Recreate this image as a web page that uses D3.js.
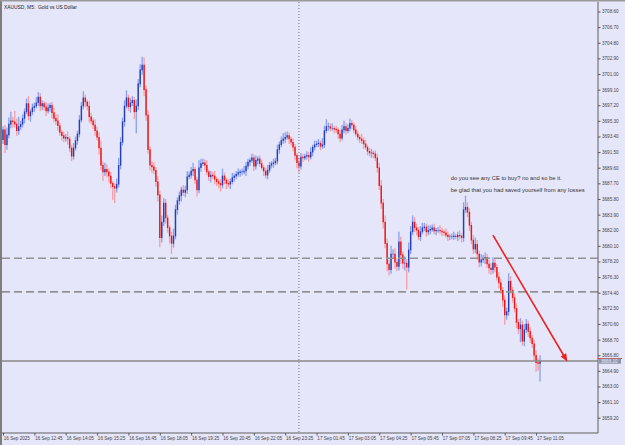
<!DOCTYPE html>
<html>
<head>
<meta charset="utf-8">
<script src="https://cdn.jsdelivr.net/npm/d3@7"></script>
<style>
  html, body { margin: 0; padding: 0; background: #e6e6fa; }
  svg { display: block; }
</style>
</head>
<body>
<svg id="chart" width="625" height="445"></svg>
<script>
// XAUUSD M5 closes, one per bar (open = previous close)
const closes = [
  3694.2, 3692.4, 3693.6, 3694.9, 3695.3, 3695.2, 3694.9, 3694.1, 3694.6, 3694.9,
  3695.6, 3696.4, 3697.4, 3695.9, 3696.4, 3696.9, 3697.1, 3697.5, 3698.2, 3697.1,
  3697.4, 3697.0, 3696.5, 3696.9, 3697.2, 3696.3, 3695.6, 3695.3, 3694.7, 3693.9,
  3693.5, 3693.2, 3693.3, 3693.1, 3692.0, 3691.0, 3692.0, 3692.9, 3693.7, 3695.4,
  3697.1, 3698.1, 3697.6, 3697.1, 3695.8, 3695.3, 3694.8, 3694.1, 3693.3, 3692.0,
  3689.9, 3689.1, 3689.4, 3689.1, 3688.6, 3687.7, 3687.3, 3687.1, 3687.6, 3689.9,
  3692.7, 3695.2, 3697.1, 3698.1, 3697.0, 3697.5, 3697.8, 3696.4, 3697.1, 3699.8,
  3701.5, 3702.1, 3699.1, 3696.0, 3691.8, 3689.9, 3689.7, 3689.3, 3687.9, 3686.3,
  3681.1, 3683.0, 3685.3, 3683.5, 3682.3, 3681.3, 3680.4, 3681.3, 3684.5, 3685.6,
  3686.2, 3686.9, 3686.6, 3686.9, 3688.5, 3688.7, 3689.2, 3689.4, 3688.1, 3686.9,
  3689.6, 3690.1, 3690.2, 3689.9, 3689.1, 3688.5, 3688.7, 3688.6, 3688.2, 3687.9,
  3687.7, 3687.5, 3688.6, 3688.1, 3687.7, 3687.6, 3687.9, 3688.4, 3688.6, 3688.8,
  3689.0, 3689.1, 3689.1, 3689.2, 3689.8, 3690.3, 3690.5, 3690.8, 3689.8, 3690.5,
  3690.7, 3690.1, 3689.6, 3689.2, 3688.7, 3689.3, 3689.9, 3690.1, 3690.2, 3690.4,
  3691.8, 3692.4, 3692.9, 3693.1, 3693.3, 3693.5, 3693.1, 3692.7, 3692.1, 3691.1,
  3690.2, 3689.8, 3690.9, 3690.8, 3691.0, 3691.1, 3690.9, 3691.5, 3692.1, 3692.4,
  3692.5, 3692.6, 3692.2, 3692.4, 3694.1, 3694.6, 3694.6, 3694.4, 3694.4, 3694.3,
  3694.2, 3693.7, 3693.2, 3694.2, 3694.6, 3694.1, 3694.4, 3695.0, 3694.8, 3694.2,
  3693.7, 3693.3, 3693.1, 3692.9, 3692.5, 3692.1, 3691.6, 3691.4, 3691.4, 3691.3,
  3690.8, 3689.6, 3687.4, 3685.3, 3683.0, 3680.4, 3677.9, 3677.2, 3679.1, 3679.1,
  3678.1, 3677.6, 3680.6, 3679.0, 3678.0, 3678.0, 3677.5, 3679.6, 3681.8, 3683.0,
  3682.3, 3682.0, 3681.2, 3681.8, 3682.3, 3682.4, 3681.8, 3682.0, 3682.1, 3682.3,
  3681.9, 3682.0, 3682.0, 3681.9, 3681.8, 3681.7, 3681.4, 3681.2, 3681.2, 3681.2,
  3681.3, 3681.2, 3681.4, 3681.3, 3681.1, 3684.5, 3684.8, 3684.2, 3682.6, 3680.8,
  3679.7, 3680.3, 3679.1, 3678.1, 3678.4, 3678.5, 3678.7, 3677.9, 3677.4, 3677.2,
  3678.0, 3677.5, 3676.3, 3675.6, 3674.7, 3673.5, 3671.7, 3672.1, 3675.8, 3674.7,
  3673.8, 3672.5, 3670.8, 3670.0, 3670.5, 3668.5, 3669.9, 3670.6, 3669.7, 3668.9,
  3668.2, 3666.8, 3665.9, 3665.8, 3666.1
];
const firstOpen = 3693.0;

// shadow above the body / below the body, in dollars
const wickUp = [
  0.4, 0.6, 0.9, 0.8, 1.1, 0.5, 1.3, 0.7, 1.2, 0.4,
  0.5, 0.4, 0.6, 0.9, 0.3, 0.5, 0.4, 0.7, 0.6, 0.5,
  0.4, 0.3, 0.6, 0.5, 0.3, 0.4, 0.6, 0.5, 0.8, 0.4,
  0.3, 0.5, 0.4, 0.7, 0.3, 0.4, 0.6, 0.5, 0.4, 0.6,
  0.5, 0.8, 0.4, 0.3, 0.6, 0.5, 0.4, 0.7, 0.5, 0.6,
  0.9, 0.5, 0.8, 0.6, 0.4, 0.5, 0.3, 0.4, 0.7, 0.9,
  0.6, 0.5, 0.7, 0.9, 0.4, 0.6, 0.5, 0.4, 0.8, 0.6,
  0.7, 1.0, 0.9, 0.5, 0.6, 0.4, 0.5, 0.6, 0.4, 0.7,
  0.5, 0.8, 0.6, 0.5, 0.4, 0.3, 0.5, 0.9, 0.6, 0.4,
  0.5, 0.4, 0.6, 0.5, 0.7, 0.4, 0.5, 0.8, 0.3, 0.4,
  0.9, 0.6, 0.5, 0.4, 0.6, 0.3, 0.5, 0.4, 0.6, 0.3,
  0.4, 0.5, 0.9, 0.4, 0.3, 0.5, 0.4, 0.6, 0.3, 0.4,
  0.5, 0.3, 0.4, 0.6, 0.5, 0.4, 0.3, 0.5, 0.4, 0.6,
  0.3, 0.4, 0.5, 0.3, 0.4, 0.6, 0.4, 0.3, 0.5, 0.4,
  0.6, 0.4, 0.5, 0.7, 0.6, 0.5, 0.4, 0.3, 0.5, 0.4,
  0.3, 0.6, 0.5, 0.4, 0.3, 0.5, 0.4, 0.6, 0.3, 0.5,
  0.4, 0.5, 0.3, 0.8, 0.6, 0.9, 0.5, 0.4, 0.6, 0.3,
  0.4, 0.3, 0.5, 0.6, 0.7, 0.4, 0.5, 0.6, 0.4, 0.3,
  0.5, 0.4, 0.3, 0.6, 0.4, 0.5, 0.3, 0.4, 0.5, 0.3,
  0.4, 0.5, 0.6, 0.7, 0.5, 0.8, 0.6, 0.5, 1.0, 0.6,
  0.7, 0.5, 1.2, 0.6, 0.4, 0.8, 0.5, 0.9, 0.7, 0.8,
  0.6, 0.5, 0.4, 0.7, 0.6, 0.5, 0.4, 0.6, 0.5, 0.4,
  0.5, 0.3, 0.4, 0.6, 0.4, 0.3, 0.5, 0.4, 0.3, 0.4,
  0.5, 0.3, 0.4, 0.6, 0.3, 0.9, 1.4, 0.6, 0.5, 0.4,
  0.6, 0.8, 0.5, 0.4, 0.7, 0.5, 0.6, 0.4, 0.5, 0.6,
  0.7, 0.5, 0.4, 0.6, 0.5, 0.4, 0.6, 0.5, 1.0, 0.6,
  0.4, 0.5, 0.6, 0.4, 0.8, 0.5, 0.7, 0.6, 0.4, 0.5,
  0.4, 0.5, 0.6, 0.5, 0.7
];
const wickDn = [
  0.5, 1.0, 0.6, 0.4, 0.5, 0.7, 0.4, 0.6, 0.5, 0.4,
  0.4, 0.6, 0.3, 0.5, 0.7, 0.4, 0.5, 0.3, 0.4, 0.6,
  0.5, 0.4, 0.6, 0.3, 0.5, 0.7, 0.4, 0.5, 0.6, 0.4,
  0.6, 0.5, 0.4, 0.7, 0.5, 0.6, 0.4, 0.3, 0.5, 0.4,
  0.3, 0.4, 0.6, 0.5, 0.7, 0.4, 0.5, 0.6, 0.4, 0.8,
  0.6, 1.1, 0.5, 0.7, 0.8, 0.6, 1.6, 1.8, 0.5, 0.4,
  0.5, 0.4, 0.6, 0.3, 0.5, 0.7, 0.4, 0.9, 2.6, 0.5,
  0.4, 0.6, 0.8, 0.7, 0.5, 0.6, 0.7, 0.5, 0.6, 0.8,
  1.2, 0.6, 0.5, 0.7, 0.6, 0.9, 1.3, 0.5, 0.4, 0.6,
  0.5, 0.7, 0.4, 0.6, 0.5, 0.3, 0.4, 0.6, 0.5, 0.8,
  0.4, 0.5, 0.3, 0.6, 0.4, 0.5, 0.7, 0.4, 0.6, 0.5,
  0.6, 0.8, 0.4, 0.5, 0.7, 0.4, 0.6, 0.3, 0.5, 0.4,
  0.3, 0.5, 0.4, 0.3, 0.6, 0.4, 0.5, 0.3, 0.6, 0.4,
  0.5, 0.4, 0.3, 0.6, 0.4, 0.5, 0.3, 0.4, 0.5, 0.3,
  0.4, 0.5, 0.3, 0.4, 0.5, 0.3, 0.6, 0.4, 0.5, 0.6,
  0.7, 0.8, 0.4, 0.5, 0.3, 0.4, 0.6, 0.3, 0.5, 0.4,
  0.3, 0.4, 0.5, 0.3, 0.4, 0.3, 0.5, 0.4, 0.3, 0.5,
  0.4, 0.6, 0.5, 0.3, 0.4, 0.5, 0.3, 0.4, 0.5, 0.4,
  0.3, 0.4, 0.5, 0.4, 0.6, 0.3, 0.5, 0.4, 0.6, 0.5,
  0.4, 0.6, 0.5, 0.7, 0.8, 0.6, 0.9, 0.7, 0.5, 0.6,
  0.8, 0.6, 0.5, 1.1, 0.7, 0.9, 2.7, 0.6, 0.5, 0.4,
  0.5, 0.6, 0.4, 0.5, 0.3, 0.4, 0.6, 0.4, 0.5, 0.3,
  0.4, 0.5, 0.3, 0.4, 0.5, 0.4, 0.3, 0.5, 0.4, 0.3,
  0.4, 0.3, 0.5, 0.4, 0.6, 0.5, 0.4, 0.6, 0.7, 0.5,
  0.6, 0.5, 0.7, 0.6, 0.5, 0.4, 0.6, 0.5, 0.7, 0.6,
  0.5, 0.6, 0.4, 0.7, 0.5, 0.8, 1.2, 0.6, 0.5, 0.4,
  0.6, 0.5, 0.7, 0.6, 1.6, 0.5, 0.6, 0.4, 0.7, 0.6,
  0.5, 0.6, 1.1, 0.9, 2.2
];

const priceTicks = [
  3708.6, 3706.7, 3704.8, 3702.9, 3701.0, 3699.1, 3697.2, 3695.3, 3693.4,
  3691.5, 3689.6, 3687.7, 3685.8, 3683.9, 3682.0, 3680.1, 3678.2, 3676.3,
  3674.4, 3672.5, 3670.6, 3668.7, 3666.8, 3664.9, 3663.0, 3661.1, 3659.2
];
const timeLabels = [
  '16 Sep 2025', '16 Sep 12:45', '16 Sep 14:05', '16 Sep 15:25', '16 Sep 16:45',
  '16 Sep 18:05', '16 Sep 19:25', '16 Sep 20:45', '16 Sep 22:05', '16 Sep 23:25',
  '17 Sep 01:45', '17 Sep 03:05', '17 Sep 04:25', '17 Sep 05:45', '17 Sep 07:05',
  '17 Sep 08:25', '17 Sep 09:45', '17 Sep 11:05'
];
const barsPerLabel = 16;

// chart objects
const dashedLevels = [3678.6, 3674.5];
const vLineBar = 151;
const askPrice = 3666.4;
const arrowFrom = { bar: 250, price: 3681.4 };
const arrowTo = { bar: 288, price: 3666.0 };
const noteLines = [
  'do you see any CE to buy? no and so be it.',
  'be glad that you had saved yourself from any losses'
];
const notePos = { bar: 228.5, price: 3688.1 };

const svg = d3.select('#chart');
const W = 625, H = 445;
const plot = { left: 2, top: 2, right: 598, bottom: 433 };

const x = d3.scaleLinear().domain([0, closes.length - 1]).range([3, 540]);
const y = d3.scaleLinear().domain([3659.2, 3708.6]).range([417.7, 11.5]);

svg.append('rect').attr('width', W).attr('height', H).attr('fill', '#e6e6fa');

// bars
const bars = closes.map((c, i) => {
  const o = i === 0 ? firstOpen : closes[i - 1];
  return { i, o, c, h: Math.max(o, c) + wickUp[i], l: Math.min(o, c) - wickDn[i], up: c >= o };
});

const barsG = svg.append('g');
barsG.selectAll('line.wick')
  .data(bars)
  .enter()
  .append('line')
  .attr('class', 'wick')
  .attr('x1', d => x(d.i)).attr('x2', d => x(d.i))
  .attr('y1', d => y(d.h)).attr('y2', d => y(d.l))
  .attr('stroke', d => d.up ? '#8aa0ee' : '#f59ea6')
  .attr('stroke-width', 1.3);

barsG.selectAll('line.body')
  .data(bars)
  .enter()
  .append('line')
  .attr('class', 'body')
  .attr('x1', d => x(d.i)).attr('x2', d => x(d.i))
  .attr('y1', d => y(Math.max(d.o, d.c)) - 0.3)
  .attr('y2', d => y(Math.min(d.o, d.c)) + 0.3)
  .attr('stroke', d => d.up ? '#2640b4' : '#ec1414')
  .attr('stroke-width', 1.4);

// horizontal dashed levels
svg.selectAll('line.level')
  .data(dashedLevels)
  .enter()
  .append('line')
  .attr('x1', plot.left).attr('x2', plot.right)
  .attr('y1', d => y(d)).attr('y2', d => y(d))
  .attr('stroke', '#929292')
  .attr('stroke-width', 1.6)
  .attr('stroke-dasharray', '8,4');

// bid line
const bid = closes[closes.length - 1];
svg.append('line')
  .attr('x1', plot.left).attr('x2', plot.right)
  .attr('y1', y(bid)).attr('y2', y(bid))
  .attr('stroke', '#888')
  .attr('stroke-width', 1.6);

// vertical dotted line
svg.append('line')
  .attr('x1', x(vLineBar)).attr('x2', x(vLineBar))
  .attr('y1', plot.top).attr('y2', plot.bottom)
  .attr('stroke', '#555')
  .attr('stroke-width', 0.8)
  .attr('stroke-dasharray', '1,2');

// red arrow
const ax1 = x(arrowFrom.bar), ay1 = y(arrowFrom.price);
const ax2 = x(arrowTo.bar), ay2 = y(arrowTo.price);
const ang = Math.atan2(ay2 - ay1, ax2 - ax1);
svg.append('line')
  .attr('x1', ax1).attr('y1', ay1)
  .attr('x2', ax2 - 5 * Math.cos(ang)).attr('y2', ay2 - 5 * Math.sin(ang))
  .attr('stroke', '#ee2020')
  .attr('stroke-width', 1.6);
const headLen = 8, headW = 3.2;
const bx = ax2 - headLen * Math.cos(ang), by = ay2 - headLen * Math.sin(ang);
svg.append('path')
  .attr('d', `M${ax2},${ay2}L${bx - headW * Math.sin(ang)},${by + headW * Math.cos(ang)}L${bx + headW * Math.sin(ang)},${by - headW * Math.cos(ang)}Z`)
  .attr('fill', '#ee2020');

// note text
svg.selectAll('text.note')
  .data(noteLines)
  .enter()
  .append('text')
  .attr('x', x(notePos.bar))
  .attr('y', (d, k) => y(notePos.price) + k * 11.5)
  .attr('font-family', 'Liberation Sans, Arial, sans-serif')
  .attr('font-size', '5.8px')
  .attr('fill', '#333')
  .text(d => d);

// frame
svg.append('rect').attr('x', 0).attr('y', 0).attr('width', 2).attr('height', H).attr('fill', '#7d7d7d');
svg.append('rect').attr('x', 0).attr('y', 0).attr('width', W).attr('height', 1.5).attr('fill', '#9a9a9a');
svg.append('line')
  .attr('x1', plot.right).attr('x2', plot.right).attr('y1', plot.top).attr('y2', plot.bottom)
  .attr('stroke', '#606060').attr('stroke-width', 1);
svg.append('line')
  .attr('x1', plot.left).attr('x2', plot.right).attr('y1', plot.bottom).attr('y2', plot.bottom)
  .attr('stroke', '#606060').attr('stroke-width', 1);

// price axis
const yAxis = d3.axisRight(y)
  .tickValues(priceTicks)
  .tickSize(2.5)
  .tickPadding(1.5)
  .tickFormat(d3.format('.2f'));
const yAxisG = svg.append('g')
  .attr('transform', `translate(${plot.right},0)`)
  .call(yAxis);
yAxisG.select('.domain').remove();
yAxisG.selectAll('.tick line').attr('stroke', '#555');
yAxisG.selectAll('.tick text')
  .attr('font-family', 'Liberation Sans, Arial, sans-serif')
  .attr('font-size', '4.6px')
  .attr('fill', '#444');

// ask line + bid label
svg.append('line')
  .attr('x1', plot.right).attr('x2', 622)
  .attr('y1', y(askPrice)).attr('y2', y(askPrice))
  .attr('stroke', '#ee2020').attr('stroke-width', 1);
svg.append('rect')
  .attr('x', plot.right + 1).attr('y', y(bid) - 2.6)
  .attr('width', 22).attr('height', 5.4)
  .attr('fill', '#8f95aa');
svg.append('text')
  .attr('x', plot.right + 3).attr('y', y(bid) + 1.7)
  .attr('font-family', 'Liberation Sans, Arial, sans-serif')
  .attr('font-size', '4.6px')
  .attr('fill', '#eef')
  .text(bid.toFixed(2));

// time axis
const timeTickBars = timeLabels.map((t, k) => k * barsPerLabel);
const xAxis = d3.axisBottom(x)
  .tickValues(timeTickBars)
  .tickSize(2.5)
  .tickPadding(1.5)
  .tickFormat((d, k) => timeLabels[k]);
const xAxisG = svg.append('g')
  .attr('transform', `translate(0,${plot.bottom})`)
  .call(xAxis);
xAxisG.select('.domain').remove();
xAxisG.selectAll('.tick line').attr('stroke', '#555');
xAxisG.selectAll('.tick text')
  .attr('text-anchor', 'start')
  .attr('dx', '0.3')
  .attr('font-family', 'Liberation Sans, Arial, sans-serif')
  .attr('font-size', '4.6px')
  .attr('fill', '#444');

// title
svg.append('text')
  .attr('x', 4).attr('y', 8.5)
  .attr('font-family', 'Liberation Sans, Arial, sans-serif')
  .attr('font-size', '4.9px')
  .attr('fill', '#222')
  .style('white-space', 'pre')
  .text('XAUUSD, M5:  Gold vs US Dollar');
</script>
</body>
</html>
